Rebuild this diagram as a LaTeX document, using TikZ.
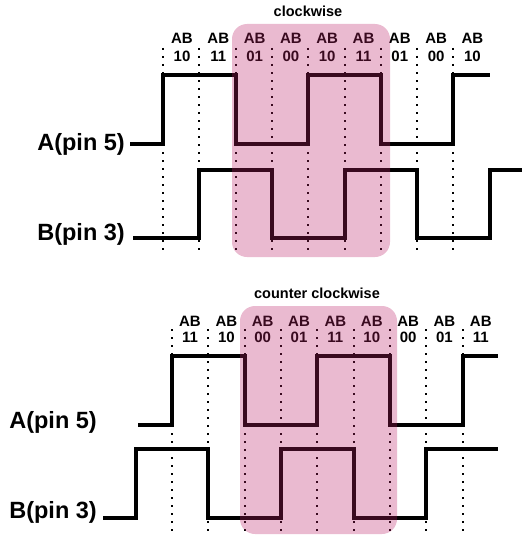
\documentclass[tikz,border=0pt]{standalone}
\usepackage{fontspec}
\setmainfont{Liberation Sans}
\definecolor{bandpink}{RGB}{187,33,103}
\tikzset{signal/.style={line width=4pt},
tick/.style={line width=2pt, dash pattern=on 1.8pt off 6.2pt},
band/.style={fill=bandpink, fill opacity=0.31, rounded corners=15pt},
ab/.style={font=\fontsize{15}{17}\selectfont\bfseries, anchor=base, inner sep=0pt},
title/.style={font=\fontsize{14.5}{17}\selectfont\bfseries, anchor=base, inner sep=0pt},
pin/.style={font=\fontsize{23.5}{28}\selectfont\bfseries, anchor=base east, inner sep=0pt}
}
\begin{document}
\begin{tikzpicture}[x=1pt,y=-1pt]
\useasboundingbox (0,0) rectangle (522,535);
% clockwise
\node[title] (cw) at (308,17) {clockwise};
\foreach \v [count=\i from 0] in {10,11,01,00,10,11,01,00,10}{
    \draw[tick] (163+36.3*\i,48) -- (163+36.3*\i,254);
    \node[ab] (cwab\i) at (182+36.3*\i,44) {AB};
    \node[ab] (cwv\i) at (182+36.3*\i,62) {\v};
}
\node[pin] (cwA) at (125,150) {A(pin 5)};
\node[pin] (cwB) at (125,240) {B(pin 3)};
\draw[signal] (130,144) -| (163,75) -| (235.6,144) -| (308.2,75) -| (380.8,144) -| (453.4,75) -- (490,75);
\draw[signal] (133,238) -| (199.3,170) -| (271.9,238) -| (344.5,170) -| (417.1,238) -| (489.7,170) -- (522,170);
\fill[band] (232,24) rectangle (390,257);
% counter clockwise
\node[title] (ccw) at (317,298) {counter clockwise};
\foreach \v [count=\i from 0] in {11,10,00,01,11,10,00,01,11}{
    \draw[tick] (172+36.35*\i,329) -- (172+36.35*\i,534);
    \node[ab] (ccwab\i) at (190+36.35*\i,326) {AB};
    \node[ab] (ccwv\i) at (190+36.35*\i,342) {\v};
}
\node[pin] (ccwA) at (97,428) {A(pin 5)};
\node[pin] (ccwB) at (97,518) {B(pin 3)};
\draw[signal] (138,425) -| (172,356) -| (244.7,425) -| (317.4,356) -| (390.1,425) -| (462.8,356) -- (498,356);
\draw[signal] (103,518) -| (135.7,449) -| (208.4,518) -| (281,449) -| (353.8,518) -| (426.4,449) -- (498,449);
\fill[band] (240,306) rectangle (397,534);
\end{tikzpicture}
\end{document}
